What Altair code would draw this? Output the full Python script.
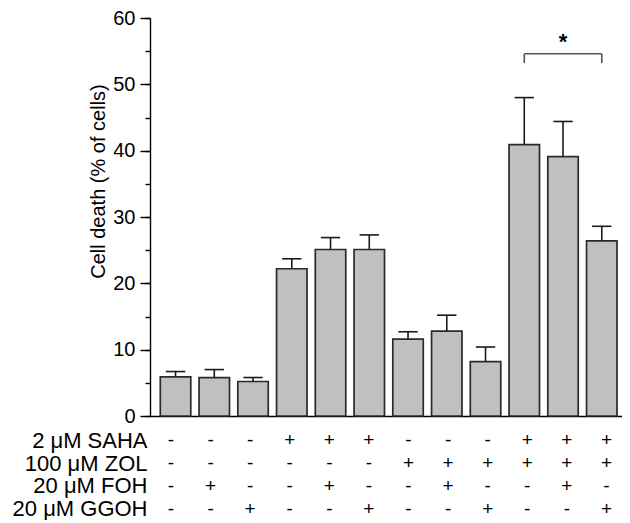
import altair as alt
import pandas as pd

# ---- data ----
idx = list(range(12))
means = [5.9, 5.8, 5.2, 22.2, 25.1, 25.1, 11.6, 12.8, 8.2, 40.9, 39.1, 26.4]
err_top = [6.7, 7.0, 5.8, 23.7, 26.9, 27.3, 12.7, 15.2, 10.4, 48.0, 44.4, 28.6]
row_labels = ["2 μM SAHA", "100 μM ZOL", "20 μM FOH", "20 μM GGOH"]
saha = ["-", "-", "-", "+", "+", "+", "-", "-", "-", "+", "+", "+"]
zol = ["-", "-", "-", "-", "-", "-", "+", "+", "+", "+", "+", "+"]
foh = ["-", "+", "-", "-", "+", "-", "-", "+", "-", "-", "+", "-"]
ggoh = ["-", "-", "+", "-", "-", "+", "-", "-", "+", "-", "-", "+"]
sig_pair = [9, 11]
sig_y = 54.6
sig_leg = 53.2
sig_text = "*"
star_y = 55.3

FONT = "Liberation Sans"
XDOM = [-0.53, 11.393]
YDOM = [0, 60]
HALF = 0.393
CAP = 0.25

bars_df = pd.DataFrame({"i": idx, "mean": means, "top": err_top})
table_df = pd.DataFrame(
    [{"i": i, "row": lab, "sign": s}
     for lab, col in zip(row_labels, [saha, zol, foh, ggoh])
     for i, s in zip(idx, col)]
)
br = pd.DataFrame({"a": [sig_pair[0]], "b": [sig_pair[1]], "y": [sig_y], "y0": [sig_leg],
                   "m": [(sig_pair[0] + sig_pair[1]) / 2], "ys": [star_y], "t": [sig_text]})

xs = alt.Scale(domain=XDOM, nice=False, zero=False)
ys = alt.Scale(domain=YDOM, nice=False)

base = alt.Chart(bars_df)

bars = base.transform_calculate(
    xa=f"datum.i - {HALF}", xb=f"datum.i + {HALF}"
).mark_bar(fill="#c0c0c0", stroke="#2a2a2a", strokeWidth=1.7, orient="vertical").encode(
    x=alt.X("xa:Q", scale=xs, axis=alt.Axis(labels=False, ticks=False, title=None,
                                            domainColor="#000000", domainWidth=1.4, grid=False)),
    x2="xb:Q",
    y=alt.Y("mean:Q", scale=ys, axis=alt.Axis(
        values=list(range(0, 61, 10)), tickSize=10, labelPadding=5, grid=False,
        labelFont=FONT, labelFontSize=20, labelColor="#000000",
        tickColor="#000000", domainColor="#000000", domainWidth=1.4, tickWidth=1.4,
        title="Cell death (% of cells)", titleFont=FONT, titleFontSize=20,
        titleFontWeight="normal", titleColor="#000000",
        titleAngle=270, titleAlign="center", titleBaseline="bottom",
        titleX=-42, titleY=163)),
    y2=alt.datum(0),
)

err_v = base.mark_rule(color="#1a1a1a", strokeWidth=1.6).encode(
    x=alt.X("i:Q", scale=xs),
    y=alt.Y("mean:Q", scale=ys),
    y2="top:Q",
)
err_cap = base.transform_calculate(
    ca=f"datum.i - {CAP}", cb=f"datum.i + {CAP}"
).mark_rule(color="#1a1a1a", strokeWidth=1.6).encode(
    x=alt.X("ca:Q", scale=xs),
    x2="cb:Q",
    y=alt.Y("top:Q", scale=ys),
)

bch = alt.Chart(br)
br_h = bch.mark_rule(color="#555555", strokeWidth=1.6).encode(
    x=alt.X("a:Q", scale=xs), x2="b:Q", y=alt.Y("y:Q", scale=ys))
br_l = bch.mark_rule(color="#555555", strokeWidth=1.6).encode(
    x=alt.X("a:Q", scale=xs), y=alt.Y("y:Q", scale=ys), y2="y0:Q")
br_r = bch.mark_rule(color="#555555", strokeWidth=1.6).encode(
    x=alt.X("b:Q", scale=xs), y=alt.Y("y:Q", scale=ys), y2="y0:Q")
star = bch.mark_text(font=FONT, fontSize=22, fontWeight="bold", baseline="alphabetic",
                     align="center", color="#000000").encode(
    x=alt.X("m:Q", scale=xs), y=alt.Y("ys:Q", scale=ys), text="t:N")

main = alt.layer(bars, err_v, err_cap, br_h, br_l, br_r, star)

# minor ticks via an overlapping second left axis
minor = base.mark_rule(opacity=0).encode(
    x=alt.X("i:Q", scale=xs),
    y=alt.Y("mean:Q", scale=ys, axis=alt.Axis(
        orient="left", values=list(range(0, 61, 5)), tickSize=5, labels=False,
        title=None, domain=False, grid=False, tickColor="#000000", tickWidth=1.4)),
)

top = alt.layer(main, minor).resolve_scale(y="independent").properties(
    width=472, height=398)

table = alt.Chart(table_df).mark_text(font=FONT, fontSize=19, color="#000000").encode(
    x=alt.X("i:Q", scale=xs, axis=None),
    y=alt.Y("row:N", sort=row_labels, scale=alt.Scale(paddingInner=0, paddingOuter=0),
            axis=alt.Axis(title=None, ticks=False, domain=False, labelPadding=3,
                          labelFont=FONT, labelFontSize=22, labelColor="#000000",
                          labelLimit=400)),
    text="sign:N",
).properties(width=472, height=91)

chart = alt.vconcat(top, table, spacing=3).properties(
    padding={"left": 4, "top": 0, "right": 0, "bottom": 0}
).configure_view(stroke=None)

chart.save("out.html", embed_options={"renderer": "svg", "actions": False})
